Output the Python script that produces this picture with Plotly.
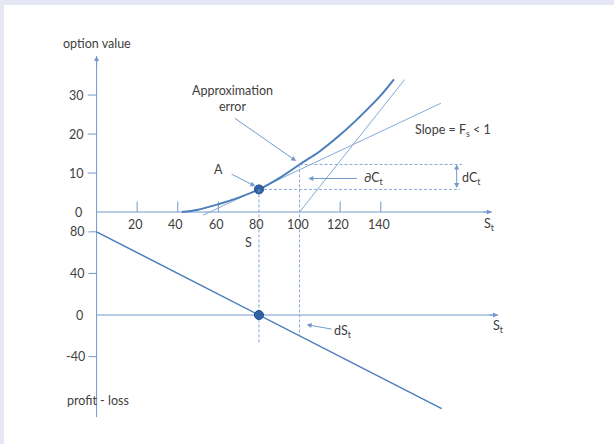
import plotly.graph_objects as go

# ---------------- data ----------------
# option value curve (top panel)
curve_S = [42, 50, 60, 70, 80, 90, 100, 110, 120, 130, 140, 146.5]
curve_V = [0, 0.6, 2.0, 3.7, 5.8, 8.7, 12.2, 15.6, 19.8, 24.6, 29.9, 34.0]
# tangent at A (slope F_s < 1)
tangent_S = [52.5, 169.6]
tangent_V = [-0.8, 27.9]
# steep line from S=100
steep_S = [100, 151.8]
steep_V = [0, 34.0]
# point A
A_S, A_V = 80, 5.8
dC_upper, dC_lower = 12.2, 5.8
dC_right = 180
# profit-loss line (bottom panel)
pl_S = [0, 170]
pl_P = [80, -90]
S_base, S_new = 80, 100
guide_bottom_base, guide_bottom_new = -27.9, -20

# ticks
top_y_ticks = [10, 20, 30]
x_ticks = [20, 40, 60, 120, 140]
x_tick_labels = [20, 40, 60, 80, 100, 120, 140]
bot_y_ticks = [80, 40, -40]

# axis extents
top_axis_end = 194.7
bot_axis_end = 197.8
y_axis_top = 40
y_axis_bottom_V = -52.6

# ranges
XR = [-45.6, 254.9]
YR = [-59.5, 53.1]
Y2R = [-124.0, 298.1]


def v_to_p(v):
    f = (v - YR[0]) / (YR[1] - YR[0])
    return Y2R[0] + f * (Y2R[1] - Y2R[0])


AX = "#7399cb"
CURVE = "#4a7ebb"
THIN = "#86a9d6"
DASH = "#86a9d6"
TXT = "#404040"
FONT = "Lato"
FS = 12.5
DASHSTYLE = "3px,2px"

fig = go.Figure()


def line(xs, ys, color, width, dash=None, yaxis="y", shape="linear"):
    fig.add_trace(go.Scatter(x=xs, y=ys, mode="lines", yaxis=yaxis,
                             line=dict(color=color, width=width, dash=dash, shape=shape),
                             hoverinfo="skip", showlegend=False))


# axes lines
line([0, 0], [y_axis_bottom_V, y_axis_top], AX, 1)
line([0, top_axis_end], [0, 0], AX, 1)
line([0, bot_axis_end], [0, 0], AX, 1, yaxis="y2")

# tick marks
for t in top_y_ticks:
    line([-4.4, 0], [t, t], AX, 1)
for t in x_ticks:
    line([t, t], [0, 2.7], AX, 1)
for t in bot_y_ticks:
    line([-4.0, 0], [t, t], AX, 1, yaxis="y2")

# dashed guides
line([S_base, S_base], [v_to_p(A_V), guide_bottom_base], DASH, 1, dash=DASHSTYLE, yaxis="y2")
line([S_new, S_new], [v_to_p(dC_upper), guide_bottom_new], DASH, 1, dash=DASHSTYLE, yaxis="y2")
line([S_base, dC_right - 1], [dC_lower, dC_lower], DASH, 1, dash=DASHSTYLE)
line([S_new, dC_right], [dC_upper, dC_upper], DASH, 1, dash=DASHSTYLE)

# thin lines
line(tangent_S, tangent_V, THIN, 1)
line(steep_S, steep_V, THIN, 1)

# curve
line(curve_S, curve_V, CURVE, 2, shape="spline")

# profit-loss
line(pl_S, pl_P, CURVE, 1.5, yaxis="y2")

# dots
fig.add_trace(go.Scatter(x=[A_S], y=[A_V], mode="markers", showlegend=False, hoverinfo="skip",
                         marker=dict(size=9, color="#2f63a6", line=dict(color="#1f4e8c", width=1))))
fig.add_trace(go.Scatter(x=[S_base], y=[0], yaxis="y2", mode="markers", showlegend=False, hoverinfo="skip",
                         marker=dict(size=9, color="#2f63a6", line=dict(color="#1f4e8c", width=1))))

ann = []


def text(x, y, s, yref="y", xanchor="center", size=FS):
    ann.append(dict(x=x, y=y, xref="x", yref=yref, text=s, showarrow=False,
                    xanchor=xanchor, yanchor="middle",
                    font=dict(family=FONT, size=size, color=TXT)))


def arrow(x0, y0, x1, y1, yref="y", side="end", color=AX):
    ann.append(dict(x=x1, y=y1, ax=x0, ay=y0, xref="x", yref=yref, axref="x", ayref=yref,
                    text="", showarrow=True, arrowhead=2, arrowsize=1, arrowwidth=1,
                    arrowcolor=color, arrowside=side, standoff=0, startstandoff=0))


# tick labels
for t in top_y_ticks:
    text(-5.2, t, str(t), xanchor="right")
text(-9.1, 0, "0")
for t in x_tick_labels:
    text(t - 1, -3.1, str(t))
for t in bot_y_ticks:
    text(-4.6, t, str(t), yref="y2", xanchor="right")
text(-8.6, 0, "0", yref="y2")

# labels
text(0.1, 43.3, "option value")
text(0.7, -81.7, "profit - loss", yref="y2")
text(74.6, -7.9, "S")
text(193.4, -3.3, "S<sub>t</sub>")
text(197.8, -11.2, "S<sub>t</sub>", yref="y2")
text(121.5, -15.4, "dS<sub>t</sub>", yref="y2")
text(136.7, 8.6, "∂C<sub>t</sub>")
text(184.5, 8.6, "dC<sub>t</sub>")
text(66.9, 29.0, "Approximation<br>error")
text(60.3, 10.9, "A")
text(175.8, 21.0, "Slope = F<sub>s</sub> &lt; 1")

# arrows
arrow(67.4, 24.3, 98.3, 13.1)
arrow(65.8, 9.9, 78.2, 6.6)
arrow(129, 8.6, 104.3, 8.6)
arrow(177.4, dC_lower, 177.4, dC_upper, side="end+start")
arrow(116.5, -13.75, 103.5, -9.3, yref="y2")
arrow(0, y_axis_top - 3, 0, y_axis_top)
arrow(top_axis_end - 5, 0, top_axis_end, 0)
arrow(bot_axis_end - 5, 0, bot_axis_end, 0, yref="y2")

fig.update_layout(
    width=614, height=444,
    margin=dict(l=4, r=0, t=5, b=0),
    paper_bgcolor="#e6e7f5",
    plot_bgcolor="white",
    xaxis=dict(range=XR, visible=False, fixedrange=True),
    yaxis=dict(range=YR, visible=False, fixedrange=True),
    yaxis2=dict(range=Y2R, visible=False, overlaying="y", fixedrange=True),
    annotations=ann,
    font=dict(family=FONT, color=TXT),
    showlegend=False,
)

fig.write_html("out.html", config={"displayModeBar": False},
               post_script="document.body.style.margin='0';")
